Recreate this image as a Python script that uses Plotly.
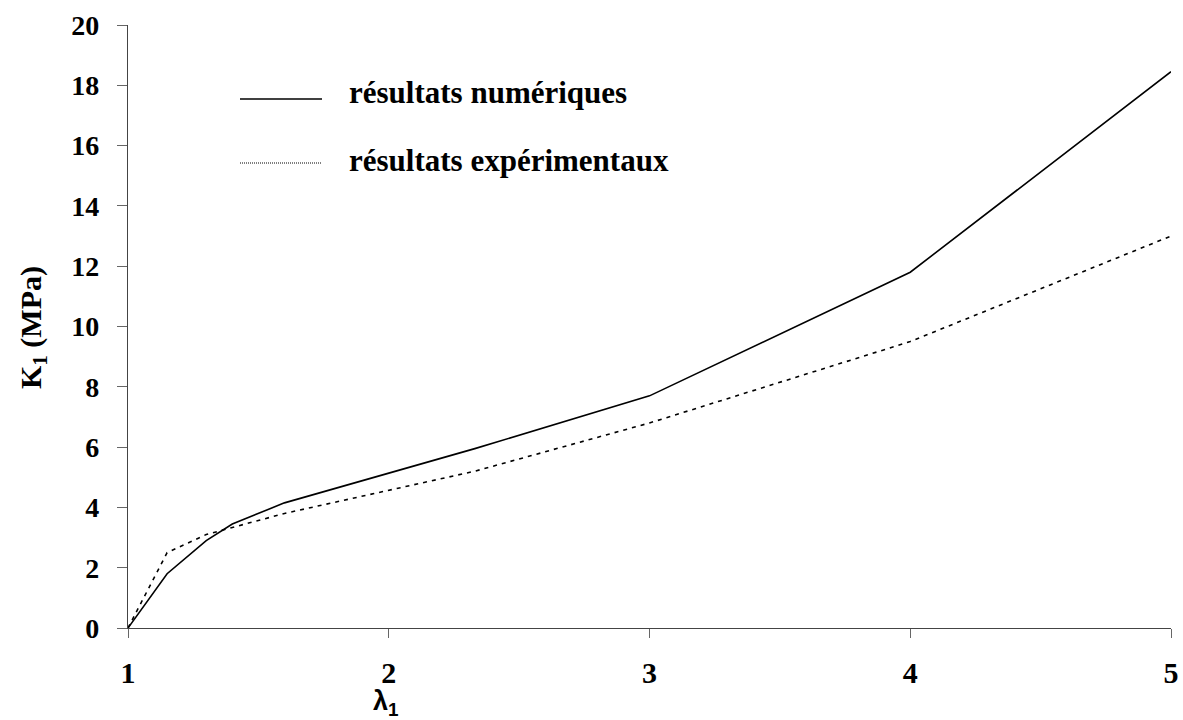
import plotly.graph_objects as go

# Data
lam_num = [1.0, 1.15, 1.3, 1.4, 1.6, 2.33, 3.0, 4.0, 5.0]
k_num = [0.0, 1.8, 2.9, 3.45, 4.15, 5.95, 7.7, 11.8, 18.45]
lam_exp = [1.0, 1.15, 1.3, 1.6, 2.33, 3.0, 4.0, 5.0]
k_exp = [0.0, 2.5, 3.1, 3.8, 5.2, 6.8, 9.5, 13.0]
x_ticks = [1, 2, 3, 4, 5]
y_ticks = [0, 2, 4, 6, 8, 10, 12, 14, 16, 18, 20]
legend_labels = ["résultats numériques", "résultats expérimentaux"]

fig = go.Figure()
fig.add_trace(go.Scatter(x=lam_num, y=k_num, mode="lines",
                         line=dict(color="black", width=1.6), showlegend=False))
fig.add_trace(go.Scatter(x=lam_exp, y=k_exp, mode="lines",
                         line=dict(color="black", width=1.6, dash="4px,5px"), showlegend=False))

serif = "Liberation Serif"
W, H = 1183, 720
ML, MR, MT, MB = 128, 12, 25, 92
PW, PH = W - ML - MR, H - MT - MB

def px(fx):
    return (fx - ML) / PW

def py(fy):
    return (H - MB - fy) / PH

fig.update_layout(
    width=W, height=H,
    margin=dict(l=ML, r=MR, t=MT, b=MB, autoexpand=False),
    paper_bgcolor="white", plot_bgcolor="white",
    xaxis=dict(range=[1, 5], tickvals=x_ticks, showgrid=False, zeroline=False,
               showline=True, linecolor="#444", linewidth=1.2, automargin=False,
               ticks="outside", ticklen=9, tickcolor="#666", ticklabelstandoff=9,
               tickfont=dict(family=serif, size=30, color="black", weight="bold")),
    yaxis=dict(range=[0, 20], tickvals=y_ticks, showgrid=False, zeroline=False,
               showline=True, linecolor="#444", linewidth=1.2, automargin=False,
               ticks="outside", ticklen=10, tickcolor="#666", ticklabelstandoff=12,
               tickfont=dict(family=serif, size=28, color="black", weight="bold")),
)

# y-axis title
fig.add_annotation(xref="paper", yref="paper", x=px(33), y=py(328),
                   xanchor="center", yanchor="middle", textangle=-90, showarrow=False,
                   text="<b>K<sub>1</sub> (MPa)</b>",
                   font=dict(family=serif, size=30, color="black"))

# x-axis title
fig.add_annotation(xref="x", yref="paper", x=1.99, y=py(703), yanchor="middle",
                   showarrow=False, text="<b>λ<sub>1</sub></b>",
                   font=dict(family="Liberation Sans", size=27, color="black"))

# manual legend
line_y = [99, 163]
text_y = [92, 160]
dashes = ["solid", "1px,1px"]
for lab, ly, ty, d in zip(legend_labels, line_y, text_y, dashes):
    fig.add_shape(type="line", xref="paper", yref="paper",
                  x0=px(240), x1=px(322), y0=py(ly), y1=py(ly),
                  line=dict(color="black", width=1.4 if d == "solid" else 1, dash=d))
    fig.add_annotation(xref="paper", yref="paper", x=px(347), y=py(ty),
                       xanchor="left", yanchor="middle", showarrow=False,
                       text="<b>" + lab + "</b>",
                       font=dict(family=serif, size=31, color="black"))

fig.write_html("out.html", config={"displayModeBar": False},
               post_script="document.body.style.margin='0';document.body.style.overflow='hidden';")
